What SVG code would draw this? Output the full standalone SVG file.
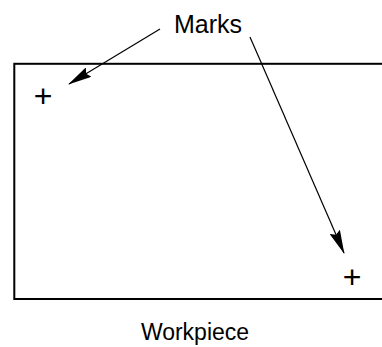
<svg xmlns="http://www.w3.org/2000/svg" width="382" height="347" viewBox="0 0 382 347">
<style>
text{font-family:"Liberation Sans",Arial,sans-serif;fill:#000}
.lbl{font-size:23px}
.top{font-size:25px}
.mk{font-size:32px}
.ln{stroke:#000;stroke-width:1.2;fill:none}
</style>
<defs>
<marker id="ah" markerWidth="24" markerHeight="11" refX="23" refY="5.5" orient="auto" markerUnits="userSpaceOnUse">
<path d="M0,0 L24,5.5 L0,11 L3,5.5 Z" fill="#000"/>
</marker>
</defs>
<rect width="382" height="347" fill="#fff"/>
<g id="workpiece">
<rect x="14.3" y="63.8" width="380" height="235.2" fill="none" stroke="#000" stroke-width="2"/>
<text class="lbl" x="195" y="340" text-anchor="middle">Workpiece</text>
</g>
<g id="mark1"><text class="mk" x="43" y="107" text-anchor="middle">+</text></g>
<g id="mark2"><text class="mk" x="352" y="288" text-anchor="middle">+</text></g>
<g id="marks-label"><text class="top" x="208" y="33" text-anchor="middle">Marks</text></g>
<g id="connectors">
<line class="ln" x1="160" y1="29" x2="69" y2="84" marker-end="url(#ah)"/>
<line class="ln" x1="250" y1="37" x2="344" y2="253" marker-end="url(#ah)"/>
</g>
</svg>
